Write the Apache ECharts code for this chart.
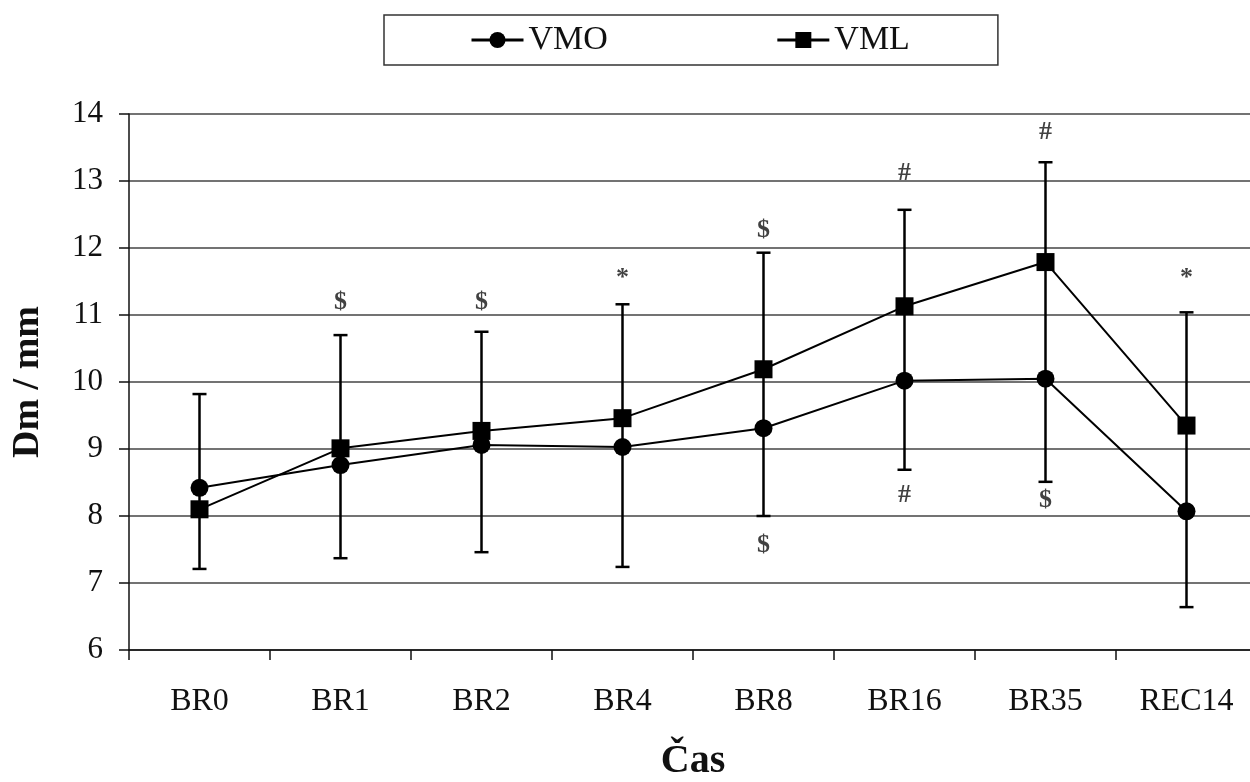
<!DOCTYPE html>
<html>
<head>
<meta charset="utf-8">
<script src="https://cdn.jsdelivr.net/npm/echarts@6/dist/echarts.min.js"></script>
<style>
  html, body { margin: 0; padding: 0; background: #fff; }
  #chart { width: 1250px; height: 782px; }
</style>
</head>
<body>
<div id="chart"></div>
<script>
// data
const categories = ["BR0", "BR1", "BR2", "BR4", "BR8", "BR16", "BR35", "REC14"];
const vmo = [8.42, 8.76, 9.06, 9.03, 9.31, 10.02, 10.05, 8.07];
const vml = [8.10, 9.01, 9.27, 9.46, 10.19, 11.13, 11.79, 9.35];
// ends of the error bars (one vertical bar per time point)
const errHigh = [9.82, 10.70, 10.75, 11.16, 11.93, 12.57, 13.28, 11.04];
const errLow = [7.21, 7.37, 7.46, 7.24, 8.00, 8.69, 8.51, 6.64];
// significance marks: [category index, y value, text]
const marksTop = [[1, 11.19, "$"], [2, 11.19, "$"], [3, 11.55, "*"], [4, 12.27, "$"],
                  [5, 13.12, "#"], [6, 13.73, "#"], [7, 11.55, "*"]];
const marksBottom = [[4, 7.57, "$"], [5, 8.31, "#"], [6, 8.24, "$"]];

const serif = "Liberation Serif";
const chart = echarts.init(document.getElementById("chart"));

const errData = categories.map((c, i) => [i, errHigh[i], errLow[i]]);

const option = {
  animation: false,
  backgroundColor: "#fff",
  legend: {
    data: ["VMO", "VML"],
    left: 384,
    top: 15,
    padding: [8, 88, 8, 86],
    itemGap: 168,
    itemWidth: 52,
    itemHeight: 20,
    borderColor: "#333",
    borderWidth: 1.5,
    lineStyle: { width: 3, color: "#000" },
    textStyle: { fontFamily: serif, fontSize: 34, color: "#111" }
  },
  // the plot runs slightly past the right edge of the picture
  grid: { left: 129, top: 114, width: 1128, height: 536, outerBoundsMode: "none", containLabel: false },
  xAxis: {
    type: "category",
    data: categories,
    boundaryGap: true,
    name: "Čas",
    nameLocation: "middle",
    nameGap: 92,
    nameTextStyle: { fontFamily: serif, fontSize: 40, fontWeight: "bold", color: "#111" },
    axisLine: { lineStyle: { color: "#111", width: 1.5 } },
    axisTick: { show: true, interval: 0, length: 10, lineStyle: { color: "#111", width: 1.5 } },
    axisLabel: { fontFamily: serif, fontSize: 32, color: "#111", margin: 36, interval: 0 },
    splitLine: { show: false }
  },
  yAxis: {
    type: "value",
    min: 6,
    max: 14,
    interval: 1,
    name: "Dm / mm",
    nameLocation: "middle",
    nameGap: 82,
    nameRotate: 90,
    nameTextStyle: { fontFamily: serif, fontSize: 38, fontWeight: "bold", color: "#111" },
    axisLine: { show: true, lineStyle: { color: "#111", width: 1.5 } },
    axisTick: { show: true, length: 10, lineStyle: { color: "#111", width: 1.5 } },
    axisLabel: { fontFamily: serif, fontSize: 31, color: "#111", margin: 26 },
    splitLine: { lineStyle: { color: "#444", width: 1.5 } }
  },
  series: [
    {
      name: "errors",
      type: "custom",
      silent: true,
      z: 1,
      data: errData,
      renderItem: function (params, api) {
        const hi = api.coord([api.value(0), api.value(1)]);
        const lo = api.coord([api.value(0), api.value(2)]);
        const cap = 7;
        const st = { stroke: "#000", lineWidth: 2.5 };
        return {
          type: "group",
          children: [
            { type: "line", shape: { x1: hi[0], y1: hi[1], x2: lo[0], y2: lo[1] }, style: st },
            { type: "line", shape: { x1: hi[0] - cap, y1: hi[1], x2: hi[0] + cap, y2: hi[1] }, style: st },
            { type: "line", shape: { x1: lo[0] - cap, y1: lo[1], x2: lo[0] + cap, y2: lo[1] }, style: st }
          ]
        };
      }
    },
    {
      name: "VMO",
      type: "line",
      data: vmo,
      symbol: "circle",
      symbolSize: 18,
      z: 3,
      itemStyle: { color: "#000" },
      lineStyle: { color: "#000", width: 2 }
    },
    {
      name: "VML",
      type: "line",
      data: vml,
      symbol: "rect",
      symbolSize: 18,
      z: 3,
      itemStyle: { color: "#000" },
      lineStyle: { color: "#000", width: 2 }
    },
    {
      name: "marks",
      type: "scatter",
      silent: true,
      symbolSize: 0,
      data: marksTop.concat(marksBottom),
      label: {
        show: true,
        position: "inside",
        formatter: function (p) { return p.data[2]; },
        fontFamily: serif,
        fontSize: 26,
        fontWeight: "bold",
        color: "#111"
      }
    }
  ]
};

chart.setOption(option);
</script>
</body>
</html>
